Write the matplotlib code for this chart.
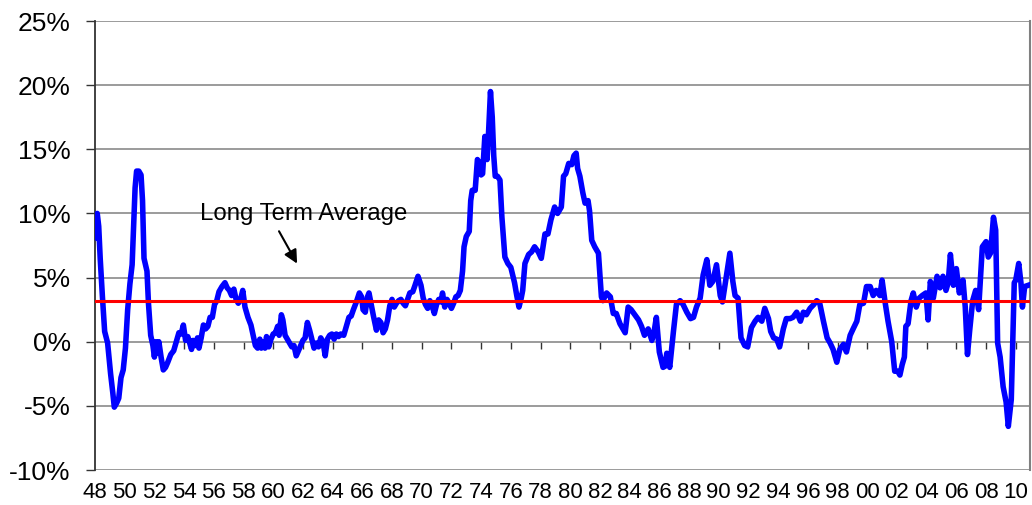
import numpy as np
import matplotlib
matplotlib.use("Agg")
import matplotlib.pyplot as plt

plt.rcParams['font.family'] = ['Liberation Sans', 'DejaVu Sans']

# year-over-year change
years = [1948.0, 1948.08, 1948.15, 1948.25, 1948.35, 1948.5, 1948.65, 1948.85, 1949.05, 1949.2,
         1949.3, 1949.45, 1949.6, 1949.75, 1949.9, 1950.05, 1950.2, 1950.35, 1950.5, 1950.6,
         1950.7, 1950.8, 1950.95, 1951.1, 1951.2, 1951.3, 1951.4, 1951.5, 1951.6, 1951.75,
         1951.9, 1952.0, 1952.1, 1952.2, 1952.3, 1952.45, 1952.6, 1952.75, 1952.9, 1953.1,
         1953.3, 1953.5, 1953.65, 1953.8, 1953.95, 1954.1, 1954.25, 1954.4, 1954.5, 1954.6,
         1954.75, 1954.9, 1955.0, 1955.15, 1955.3, 1955.45, 1955.6, 1955.75, 1955.9, 1956.05,
         1956.2, 1956.35, 1956.55, 1956.75, 1956.9, 1957.05, 1957.2, 1957.35, 1957.5, 1957.65,
         1957.8, 1957.95, 1958.1, 1958.3, 1958.5, 1958.65, 1958.8, 1958.95, 1959.1, 1959.2,
         1959.35, 1959.45, 1959.55, 1959.7, 1959.85, 1960.0, 1960.15, 1960.3, 1960.4, 1960.55,
         1960.65, 1960.8, 1960.95, 1961.1, 1961.25, 1961.4, 1961.55, 1961.7, 1961.85, 1962.0,
         1962.15, 1962.3, 1962.45, 1962.6, 1962.75, 1962.9, 1963.05, 1963.2, 1963.35, 1963.5,
         1963.65, 1963.8, 1963.95, 1964.1, 1964.25, 1964.4, 1964.55, 1964.75, 1964.95, 1965.1,
         1965.25, 1965.4, 1965.6, 1965.8, 1965.95, 1966.05, 1966.2, 1966.35, 1966.45, 1966.6,
         1966.75, 1966.95, 1967.1, 1967.25, 1967.4, 1967.55, 1967.7, 1967.85, 1968.0, 1968.15,
         1968.3, 1968.45, 1968.6, 1968.75, 1968.9, 1969.05, 1969.2, 1969.4, 1969.55, 1969.75,
         1969.95, 1970.1, 1970.25, 1970.4, 1970.55, 1970.7, 1970.85, 1971.0, 1971.15, 1971.3,
         1971.4, 1971.55, 1971.7, 1971.85, 1972.0, 1972.15, 1972.3, 1972.45, 1972.6, 1972.75,
         1972.85, 1973.0, 1973.2, 1973.3, 1973.4, 1973.6, 1973.75, 1973.85, 1974.0, 1974.1,
         1974.25, 1974.4, 1974.5, 1974.63, 1974.75, 1974.85, 1974.95, 1975.1, 1975.27, 1975.4,
         1975.6, 1975.8, 1976.0, 1976.25, 1976.4, 1976.55, 1976.7, 1976.8, 1976.95, 1977.2,
         1977.4, 1977.6, 1977.85, 1978.05, 1978.3, 1978.5, 1978.7, 1978.95, 1979.15, 1979.4,
         1979.55, 1979.7, 1979.9, 1980.1, 1980.25, 1980.4, 1980.5, 1980.65, 1980.85, 1981.0,
         1981.2, 1981.3, 1981.45, 1981.65, 1981.9, 1982.1, 1982.2, 1982.45, 1982.7, 1982.9,
         1983.1, 1983.35, 1983.55, 1983.7, 1983.9, 1984.1, 1984.35, 1984.6, 1984.8, 1985.0,
         1985.25, 1985.5, 1985.65, 1985.8, 1986.0, 1986.25, 1986.4, 1986.5, 1986.7, 1986.95,
         1987.15, 1987.4, 1987.6, 1987.85, 1988.1, 1988.3, 1988.5, 1988.75, 1988.95, 1989.2,
         1989.4, 1989.6, 1989.85, 1990.1, 1990.25, 1990.5, 1990.75, 1990.95, 1991.1, 1991.3,
         1991.5, 1991.75, 1991.95, 1992.2, 1992.45, 1992.65, 1992.9, 1993.1, 1993.35, 1993.5,
         1993.7, 1993.9, 1994.1, 1994.35, 1994.55, 1994.8, 1995.0, 1995.25, 1995.5, 1995.7,
         1995.9, 1996.15, 1996.4, 1996.6, 1996.8, 1997.05, 1997.3, 1997.5, 1997.7, 1997.95,
         1998.15, 1998.4, 1998.6, 1998.85, 1999.05, 1999.3, 1999.5, 1999.75, 1999.95, 2000.2,
         2000.4, 2000.6, 2000.85, 2001.0, 2001.2, 2001.4, 2001.65, 2001.85, 2002.05, 2002.2,
         2002.35, 2002.5, 2002.6, 2002.75, 2002.95, 2003.1, 2003.3, 2003.5, 2003.7, 2003.95,
         2004.1, 2004.25, 2004.45, 2004.7, 2004.9, 2005.1, 2005.3, 2005.45, 2005.6, 2005.8,
         2006.0, 2006.2, 2006.45, 2006.6, 2006.75, 2006.9, 2007.1, 2007.3, 2007.5, 2007.75,
         2008.0, 2008.15, 2008.3, 2008.5, 2008.65, 2008.78, 2008.95, 2009.15, 2009.35, 2009.5,
         2009.7, 2009.9, 2010.0, 2010.2, 2010.35, 2010.45, 2010.6, 2010.85]
values = [8.1, 9.2, 10.0, 9.0, 6.5, 3.5, 0.8, -0.1, -2.5, -4.0,
          -5.1, -4.8, -4.4, -2.8, -2.2, -0.5, 2.5, 4.5, 6.0, 9.0,
          12.0, 13.3, 13.3, 13.0, 11.0, 6.5, 6.0, 5.5, 3.0, 0.5,
          -0.3, -1.2, 0.0, -0.9, 0.0, -1.2, -2.2, -2.0, -1.6, -1.0,
          -0.7, 0.1, 0.7, 0.6, 1.3, 0.1, 0.4, -0.2, -0.6, 0.1,
          -0.3, 0.3, -0.5, 0.3, 1.3, 1.0, 1.2, 1.9, 1.9, 2.9,
          3.2, 3.9, 4.3, 4.6, 4.2, 4.0, 3.6, 4.1, 3.3, 3.0,
          3.3, 4.0, 2.7, 1.9, 1.3, 0.5, -0.3, -0.5, 0.2, -0.5,
          0.0, -0.5, 0.4, -0.4, 0.2, 0.6, 0.7, 1.2, 0.5, 2.1,
          1.7, 0.5, 0.2, -0.1, -0.4, -0.3, -1.1, -0.7, -0.3, 0.1,
          0.3, 1.5, 0.9, 0.2, -0.5, -0.1, -0.4, 0.3, 0.0, -1.1,
          0.2, 0.5, 0.6, 0.2, 0.6, 0.4, 0.6, 0.5, 1.3, 1.9,
          2.0, 2.5, 3.1, 3.8, 3.5, 2.5, 2.3, 3.5, 3.8, 2.9,
          2.0, 0.9, 1.7, 1.5, 0.7, 1.0, 1.7, 2.8, 3.3, 2.7,
          3.0, 3.2, 3.3, 3.0, 2.8, 3.3, 3.8, 3.9, 4.4, 5.1,
          4.4, 3.4, 2.9, 2.6, 3.2, 2.8, 2.2, 2.9, 3.3, 3.1,
          3.8, 2.7, 3.3, 3.0, 2.6, 3.0, 3.5, 3.6, 4.0, 5.5,
          7.4, 8.2, 8.6, 11.0, 11.8, 11.8, 14.2, 14.0, 13.0, 13.1,
          16.0, 14.2, 16.3, 19.5, 17.5, 14.5, 12.9, 12.9, 12.6, 9.7,
          6.6, 6.1, 5.8, 4.6, 3.6, 2.7, 3.4, 4.0, 6.1, 6.8,
          7.0, 7.4, 7.0, 6.5, 8.4, 8.4, 9.5, 10.5, 10.0, 10.5,
          12.9, 13.1, 13.9, 13.8, 14.5, 14.7, 13.5, 12.9, 11.6, 10.8,
          11.0, 10.2, 7.9, 7.4, 6.9, 3.5, 3.2, 3.8, 3.5, 2.2,
          2.2, 1.4, 1.0, 0.7, 2.7, 2.5, 2.1, 1.7, 1.2, 0.5,
          1.0, 0.1, 0.8, 1.9, -0.8, -2.0, -1.9, -0.9, -2.0, 0.8,
          2.9, 3.2, 2.9, 2.3, 1.8, 1.9, 2.7, 3.4, 5.2, 6.4,
          4.4, 4.7, 6.0, 3.6, 3.1, 5.0, 6.9, 4.7, 3.6, 3.4,
          0.3, -0.3, -0.4, 1.1, 1.6, 1.9, 1.6, 2.6, 1.8, 0.8,
          0.3, 0.2, -0.4, 1.0, 1.8, 1.8, 1.9, 2.3, 1.6, 2.3,
          2.1, 2.6, 2.9, 3.2, 3.0, 1.6, 0.3, -0.1, -0.6, -1.6,
          -0.6, -0.2, -0.8, 0.5, 1.0, 1.6, 2.9, 3.0, 4.3, 4.3,
          3.6, 4.0, 3.6, 4.8, 3.1, 1.6, 0.0, -2.3, -2.3, -2.6,
          -1.8, -1.2, 1.2, 1.4, 3.2, 3.8, 2.7, 3.4, 3.6, 3.8,
          1.7, 4.7, 3.4, 5.1, 4.2, 5.1, 4.0, 4.6, 6.8, 4.4,
          5.7, 3.8, 4.8, 2.7, -1.0, 0.9, 3.2, 4.0, 2.5, 7.4,
          7.8, 6.6, 6.9, 9.7, 8.7, -0.1, -1.2, -3.5, -4.7, -6.6,
          -4.5, 4.6, 4.8, 6.1, 4.6, 2.7, 4.3, 4.4]
long_term_avg = 3.2

y_ticks = [-10, -5, 0, 5, 10, 15, 20, 25]
label_years = list(range(1948, 2011, 2))
tick_labels = ['%02d' % (y % 100) for y in label_years]

fig = plt.figure(figsize=(10.32, 5.05), dpi=100)
ax = fig.add_axes([95 / 1032, 35 / 505, 935 / 1032, 449 / 505])

ax.set_xlim(1948, 2010.96)
ax.set_ylim(-10, 25)

for v in y_ticks:
    ax.axhline(v, color='#808080', lw=1.1, zorder=1)

ax.plot(years, values, color='#0000FF', lw=4, solid_joinstyle='round', zorder=3)
ax.axhline(long_term_avg, color='#FF0000', lw=2.2, zorder=4)

for s in ['top', 'bottom']:
    ax.spines[s].set_visible(False)
ax.spines['right'].set_color('#808080')
ax.spines['right'].set_linewidth(1.5)
ax.spines['left'].set_color('#333333')
ax.spines['left'].set_linewidth(1.3)

ax.set_yticks(y_ticks)
ax.set_yticklabels(['%d%%' % v for v in y_ticks], fontsize=19)
ax.tick_params(axis='y', length=6.5, width=1, color='#333333', pad=11)

ax.set_xticks(label_years)
ax.set_xticklabels(tick_labels, fontsize=16)
ax.tick_params(axis='x', length=0, pad=9)

# tick marks sit on the zero line
sec = ax.secondary_xaxis(10 / 35)
sec.set_xticks(list(range(1950, 2011, 2)))
sec.tick_params(axis='x', direction='out', length=5, width=1, color='#333333', labelbottom=False)
sec.spines['bottom'].set_visible(False)

ax.annotate('', xy=(1961.7, 5.9), xytext=(1960.3, 8.8),
            arrowprops=dict(arrowstyle='-|>,head_length=0.8,head_width=0.4', color='black', lw=1.5))
ax.text(1955.07, 9.5, 'Long Term Average', fontsize=17.3, ha='left', va='baseline')

fig.savefig('out.png', dpi=100)
